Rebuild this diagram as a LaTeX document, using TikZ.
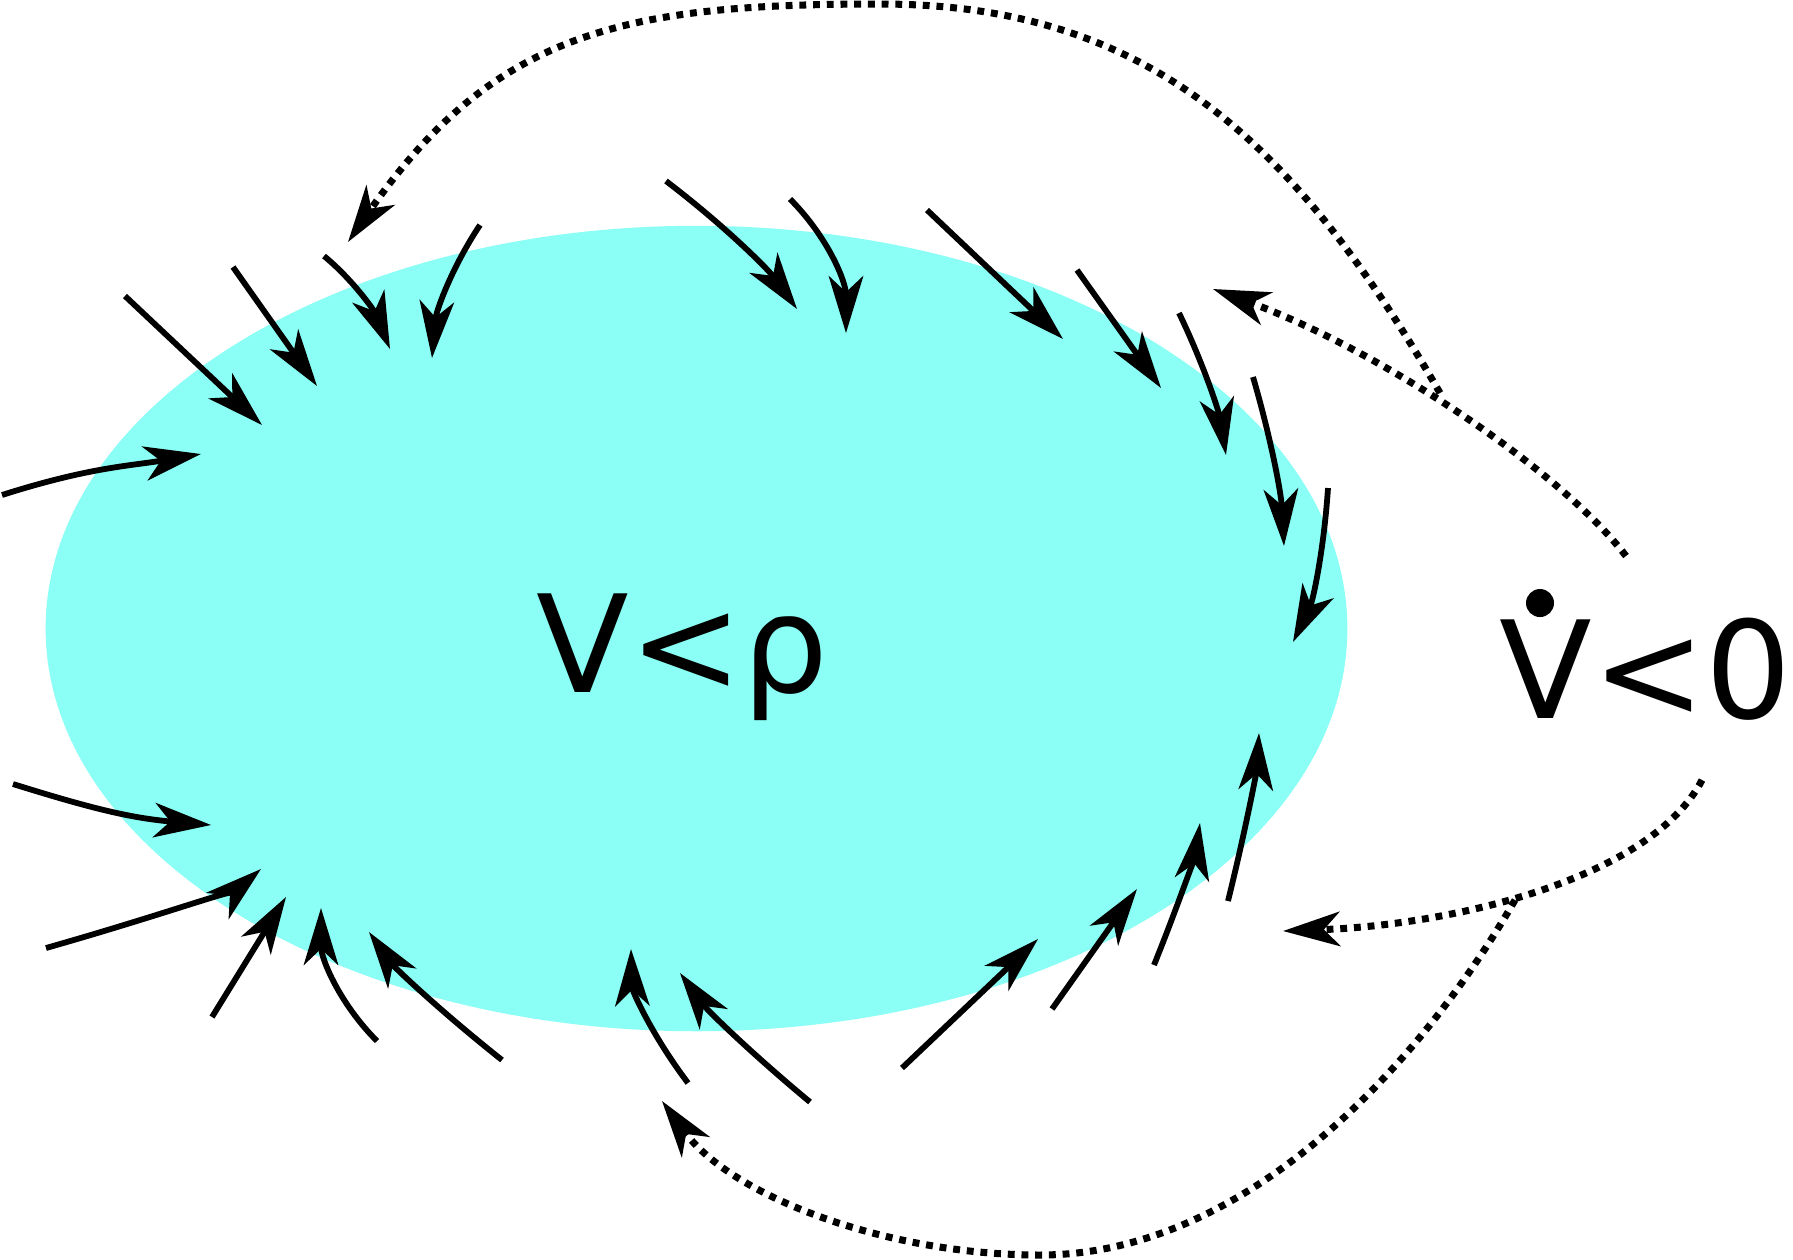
\documentclass[tikz,border=0pt]{standalone}
\usepackage{fontspec}
\setmainfont{DejaVu Sans}
\usetikzlibrary{arrows.meta}
\definecolor{regioncyan}{RGB}{139,255,245}
\begin{document}
\begin{tikzpicture}[x=0.01cm, y=-0.01cm,
  fa/.style={line width=1.65pt, -{Stealth[length=16.2pt,width=9.8pt,inset=4.6pt]}},
  dl/.style={line width=2.0pt, dash pattern=on 1.95pt off 1.95pt},
  da/.style={dl, -{Stealth[length=16.2pt,width=9.8pt,inset=4.6pt]}},
  lab/.style={font=\fontsize{38.5pt}{46pt}\selectfont, anchor=base west, inner sep=0pt}]
\useasboundingbox (0,0) rectangle (1793,1259);
% region
\fill[regioncyan] (696.5,628.5) ellipse [x radius=6.505cm, y radius=4.025cm];
% labels
\node[lab] (inner) at (536,692) {V<ρ};
\node[lab] (outer) at (1499,718) {V<0};
\fill (1540,603) circle [radius=0.14cm];
% coordinates of the field arrows
\coordinate (a1s) at (125,296);  \coordinate (a1e) at (262,425);
\coordinate (a2s) at (233,267);  \coordinate (a2e) at (317,386);
\coordinate (a3s) at (324,256);  \coordinate (a3e) at (390,349);
\coordinate (a4s) at (480,225);  \coordinate (a4e) at (432,358);
\coordinate (a5s) at (2,495);    \coordinate (a5e) at (201,454);
\coordinate (a6s) at (13,784);   \coordinate (a6e) at (211,825);
\coordinate (a7s) at (46,948);   \coordinate (a7e) at (261,869);
\coordinate (a8s) at (212,1017); \coordinate (a8e) at (286,897);
\coordinate (a9s) at (377,1041); \coordinate (a9e) at (321,908);
\coordinate (a10s) at (502,1060); \coordinate (a10e) at (369,932);
\coordinate (b1s) at (688,1083); \coordinate (b1e) at (631,949);
\coordinate (b2s) at (810,1102); \coordinate (b2e) at (680,973);
\coordinate (b3s) at (902,1068); \coordinate (b3e) at (1038,939);
\coordinate (b4s) at (1052,1009); \coordinate (b4e) at (1137,889);
\coordinate (b5s) at (1154,965); \coordinate (b5e) at (1200,823);
\coordinate (b6s) at (1228,901); \coordinate (b6e) at (1259,733);
\coordinate (c1s) at (1328,488); \coordinate (c1e) at (1293,642);
\coordinate (c2s) at (1253,377); \coordinate (c2e) at (1284,546);
\coordinate (c3s) at (1179,313); \coordinate (c3e) at (1226,455);
\coordinate (c4s) at (1077,270); \coordinate (c4e) at (1161,388);
\coordinate (c5s) at (927,210);  \coordinate (c5e) at (1063,339);
\coordinate (c6s) at (790,199);  \coordinate (c6e) at (846,333);
\coordinate (c7s) at (666,181);  \coordinate (c7e) at (797,309);
% field arrows
\draw[fa] (a1s) -- (a1e);
\draw[fa] (a2s) -- (a2e);
\draw[fa] (a3s) .. controls (352,279) and (374,310) .. (a3e);
\draw[fa] (a4s) .. controls (452,267) and (436,311) .. (a4e);
\draw[fa] (a5s) .. controls (90,467) and (130,466) .. (a5e);
\draw[fa] (a6s) .. controls (90,808) and (130,818) .. (a6e);
\draw[fa] (a7s) .. controls (169,913) and (241,886) .. (a7e);
\draw[fa] (a8s) -- (a8e);
\draw[fa] (a9s) .. controls (340,1004) and (321,959) .. (a9e);
\draw[fa] (a10s) .. controls (439,1010) and (394,967) .. (a10e);
\draw[fa] (b1s) .. controls (651,1034) and (632,990) .. (b1e);
\draw[fa] (b2s) .. controls (751,1053) and (707,1010) .. (b2e);
\draw[fa] (b3s) -- (b3e);
\draw[fa] (b4s) -- (b4e);
\draw[fa] (b5s) .. controls (1181,898) and (1196,851) .. (b5e);
\draw[fa] (b6s) .. controls (1247,824) and (1257,768) .. (b6e);
\draw[fa] (c1s) .. controls (1324,549) and (1313,601) .. (c1e);
\draw[fa] (c2s) .. controls (1270,435) and (1281,491) .. (c2e);
\draw[fa] (c3s) .. controls (1204,365) and (1219,412) .. (c3e);
\draw[fa] (c4s) -- (c4e);
\draw[fa] (c5s) -- (c5e);
\draw[fa] (c6s) .. controls (827,236) and (846,281) .. (c6e);
\draw[fa] (c7s) .. controls (725,226) and (768,269) .. (c7e);
% dotted flows from the outside region
\coordinate (tS) at (1626,556); \coordinate (tE) at (1213,289);
\coordinate (tJ) at (1440,393); \coordinate (tP) at (880,4); \coordinate (tT) at (348,242);
\coordinate (bS) at (1702,780); \coordinate (bE) at (1283,931);
\coordinate (bJ) at (1515,900); \coordinate (bP) at (1040,1255); \coordinate (bT) at (662,1101);
\draw[da] (tS) .. controls (1560,470) and (1380,350) .. (tE);
\draw[da] (tJ) .. controls (1290,132) and (1140,4) .. (tP) .. controls (630,4) and (496,29) .. (tT);
\draw[da] (bS) .. controls (1650,880) and (1450,925) .. (bE);
\draw[da] (bJ) .. controls (1415,1074) and (1240,1255) .. (bP) .. controls (890,1255) and (733,1198) .. (bT);
\end{tikzpicture}
\end{document}
